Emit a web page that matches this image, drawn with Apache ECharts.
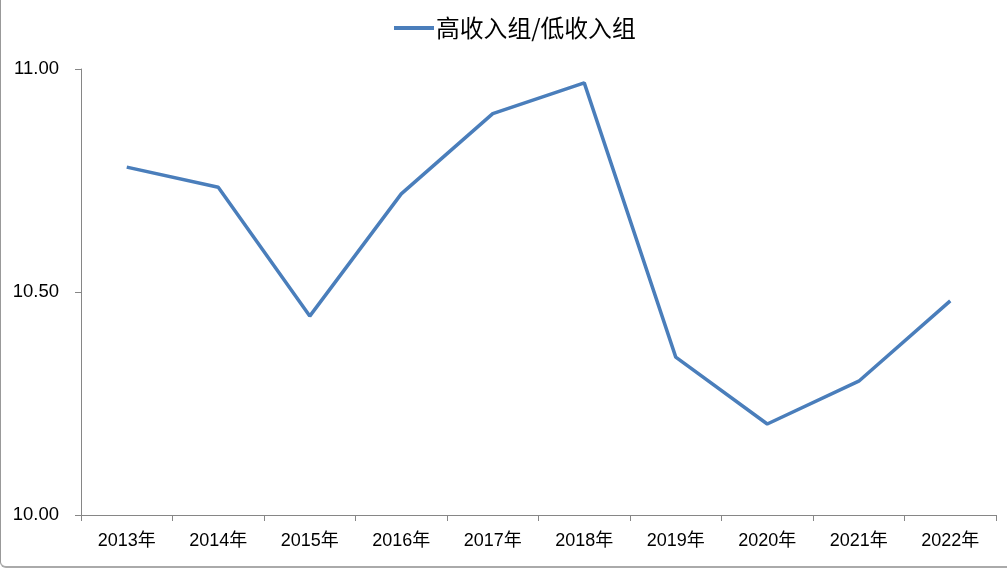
<!DOCTYPE html>
<html><head><meta charset="utf-8">
<script src="https://cdn.jsdelivr.net/npm/echarts@6/dist/echarts.min.js"></script>
<style>
html,body{margin:0;padding:0;background:#fff;}
#wrap{position:absolute;left:0;top:0;width:1007px;height:569px;}
#border{position:absolute;left:0;top:-10px;width:1020px;height:578px;border-left:1px solid #999;border-bottom:2px solid #aaa;border-bottom-left-radius:6px;box-sizing:border-box;pointer-events:none;}
#chart{position:absolute;left:0;top:0;width:1007px;height:569px;}
</style></head>
<body>
<div id="wrap"><div id="chart"></div><div id="border"></div></div>
<script>
const seriesName = '高收入组/低收入组';
const categories = ['2013年','2014年','2015年','2016年','2017年','2018年','2019年','2020年','2021年','2022年'];
const values = [10.78, 10.735, 10.446, 10.72, 10.90, 10.969, 10.354, 10.204, 10.30, 10.48];
const yMin = 10, yMax = 11, yInterval = 0.5;

const chart = echarts.init(document.getElementById('chart'), null, {renderer:'canvas'});
chart.setOption({
  animation:false,
  backgroundColor:'#fff',
  legend:{
    show:true, top:11, left:389,
    icon:'rect', itemWidth:40, itemHeight:4, itemGap:4,
    textStyle:{fontFamily:'"Noto Sans CJK SC", sans-serif', fontSize:23.8, color:'#000', padding:[0,0,0,-3]},
    data:[seriesName]
  },
  grid:{left:81, right:11, top:69, bottom:54, containLabel:false},
  xAxis:{
    type:'category', data:categories, boundaryGap:true,
    axisLine:{lineStyle:{color:'#868686', width:1}},
    axisTick:{show:true, length:6, alignWithLabel:false, lineStyle:{color:'#868686'}},
    axisLabel:{color:'#000', fontSize:18, fontFamily:'"Liberation Sans","Noto Sans CJK SC", sans-serif', margin:17}
  },
  yAxis:{
    type:'value', min:yMin, max:yMax, interval:yInterval,
    axisLine:{show:true, lineStyle:{color:'#868686', width:1}},
    axisTick:{show:true, length:6, lineStyle:{color:'#868686'}},
    splitLine:{show:false},
    axisLabel:{color:'#000', fontSize:18.5, fontFamily:'"Liberation Sans", sans-serif', margin:22, formatter:v=>v.toFixed(2)}
  },
  series:[{
    name:seriesName, type:'line', data:values,
    symbol:'none', smooth:false,
    lineStyle:{color:'#4A7EBB', width:3.5},
    itemStyle:{color:'#4A7EBB'}
  }]
});
</script>
</body></html>
